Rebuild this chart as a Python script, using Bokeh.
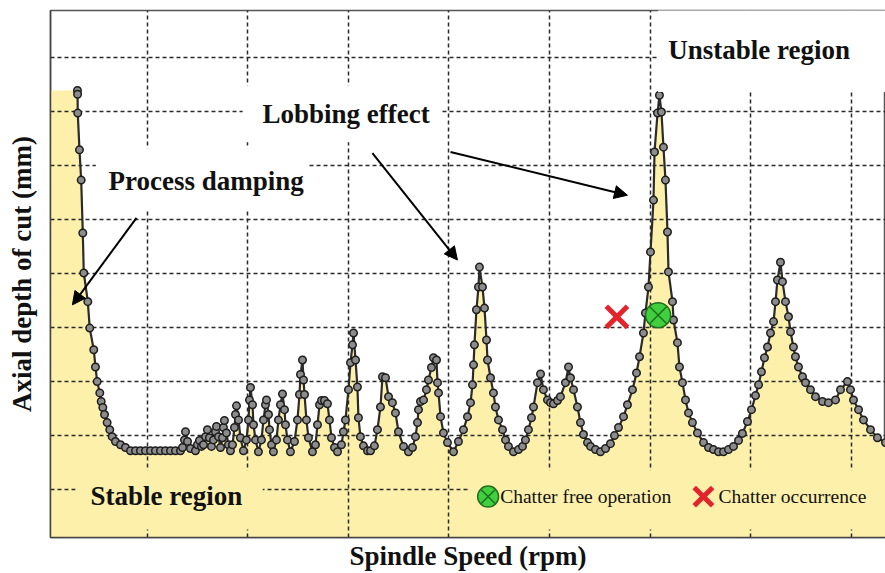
from bokeh.plotting import figure
from bokeh.models import (Range1d, FixedTicker, Label, BoxAnnotation, Arrow, NormalHead)
from bokeh.embed import file_html
from bokeh.resources import INLINE

# ---------------- data (spindle speed, axial depth of cut) ----------------
speed = [
    0.308, 0.309, 0.311, 0.328, 0.345, 0.361, 0.371, 0.411, 0.430, 0.470, 0.487, 0.504,
    0.530, 0.544, 0.560, 0.577, 0.603, 0.629, 0.653, 0.686, 0.736, 0.785, 0.835, 0.885,
    0.934, 0.984, 1.034, 1.083, 1.133, 1.183, 1.233, 1.282, 1.332,
    1.352, 1.372, 1.382, 1.402, 1.431, 1.481, 1.501, 1.521, 1.541, 1.561, 1.581, 1.600,
    1.620, 1.640, 1.660, 1.680, 1.690, 1.710, 1.730, 1.750, 1.759, 1.769, 1.789, 1.809,
    1.829, 1.849, 1.869, 1.879, 1.889, 1.909, 1.928, 1.958, 1.988, 2.008, 2.018, 2.028,
    2.048, 2.058, 2.078, 2.107, 2.137, 2.157, 2.177, 2.187, 2.207, 2.217, 2.237, 2.256,
    2.286, 2.306, 2.326, 2.346, 2.366, 2.376, 2.396, 2.425, 2.465, 2.495, 2.515, 2.525,
    2.545, 2.555, 2.565, 2.584, 2.604, 2.644, 2.674, 2.694, 2.714, 2.734, 2.763, 2.793,
    2.813, 2.833, 2.863, 2.893,
    2.932, 2.952, 2.972, 3.002, 3.022, 3.042, 3.052, 3.072, 3.091, 3.101, 3.121, 3.151,
    3.191, 3.221, 3.260, 3.290, 3.320, 3.340, 3.370, 3.400, 3.439, 3.469, 3.499, 3.549,
    3.598, 3.638, 3.668, 3.688, 3.698, 3.718, 3.748, 3.777, 3.797, 3.827, 3.847, 3.877,
    3.887, 3.897, 3.917, 3.946, 3.986, 4.046, 4.095, 4.145, 4.185, 4.215, 4.235, 4.245,
    4.254, 4.274, 4.294, 4.304, 4.334, 4.354, 4.374, 4.384, 4.414, 4.443, 4.463, 4.493,
    4.533, 4.563, 4.592, 4.642,
    4.692, 4.732, 4.761, 4.791, 4.821, 4.841, 4.881, 4.911, 4.940, 4.980, 5.010, 5.040,
    5.080, 5.109, 5.159, 5.189, 5.209, 5.239, 5.278, 5.308, 5.338, 5.378, 5.408, 5.457,
    5.507, 5.557, 5.606, 5.646, 5.686, 5.736, 5.775, 5.825, 5.865, 5.895, 5.934, 5.954,
    5.984, 6.004, 6.034, 6.044, 6.074, 6.093, 6.113, 6.133, 6.153, 6.173, 6.183, 6.223,
    6.233, 6.272, 6.292, 6.322, 6.352, 6.382, 6.421, 6.471, 6.531, 6.581, 6.630, 6.680,
    6.730, 6.779, 6.829, 6.879, 6.918, 6.968, 7.008, 7.048, 7.078, 7.107, 7.137, 7.167,
    7.197, 7.227, 7.247, 7.266, 7.296, 7.316, 7.346, 7.376, 7.396, 7.425, 7.445, 7.475,
    7.515, 7.545, 7.594, 7.644, 7.714, 7.773, 7.843, 7.893, 7.962, 7.992, 8.022, 8.072,
    8.121, 8.191, 8.260, 8.340,
]
depth = [
    8.39, 8.32, 7.97, 7.29, 6.73, 5.75, 5.01, 4.48, 3.99, 3.59, 3.27, 3.00,
    2.79, 2.63, 2.52, 2.39, 2.24, 2.11, 1.98, 1.89, 1.83, 1.78, 1.72, 1.72,
    1.72, 1.72, 1.72, 1.72, 1.72, 1.72, 1.72, 1.72, 1.72,
    1.78, 1.92, 2.07, 1.89, 1.76, 1.72, 1.83, 1.91, 1.80, 1.83, 1.98, 2.11,
    1.96, 1.80, 1.92, 2.07, 2.17, 1.98, 1.78, 1.96, 2.15, 2.28, 2.05, 1.83,
    1.72, 1.83, 2.15, 2.39, 2.55, 2.29, 1.96, 1.72, 1.92, 2.29, 2.66, 2.89,
    2.57, 2.20, 1.92, 1.70, 1.92, 2.29, 2.57, 2.66, 2.39, 2.11, 1.83, 1.70,
    1.92, 2.29, 2.57, 2.77, 2.48, 2.20, 1.92, 1.70, 1.89, 2.29, 2.76, 3.13,
    3.40, 3.03, 2.76, 2.29, 1.96, 1.70, 1.83, 2.20, 2.57, 2.65, 2.65, 2.59,
    2.29, 1.96, 1.78, 1.70,
    1.83, 2.07, 2.29, 2.85, 3.35, 3.68, 3.90, 3.40, 2.90, 2.33, 1.98, 1.81,
    1.72, 1.72, 1.81, 2.11, 2.53, 3.09, 3.07, 2.72, 2.61, 2.42, 2.07, 1.80,
    1.70, 1.78, 1.98, 2.24, 2.48, 2.63, 2.66, 2.85, 3.03, 3.26, 3.44, 3.40,
    2.98, 2.79, 2.35, 2.05, 1.87, 1.70, 1.89, 2.11, 2.35, 2.61, 2.94, 3.31,
    3.68, 4.33, 4.75, 5.12, 4.75, 4.36, 3.77, 3.40, 3.07, 2.79, 2.53, 2.29,
    2.11, 1.92, 1.80, 1.70,
    1.74, 1.80, 1.92, 2.11, 2.33, 2.53, 2.98, 3.14, 2.85, 2.66, 2.61, 2.59,
    2.65, 2.72, 2.98, 3.27, 3.07, 2.85, 2.53, 2.24, 2.02, 1.87, 1.80, 1.74,
    1.70, 1.76, 1.85, 2.00, 2.15, 2.35, 2.57, 2.85, 3.16, 3.46, 3.90, 4.27,
    4.75, 5.40, 6.36, 7.25, 7.97, 8.30, 7.99, 7.34, 6.73, 5.77, 5.03, 4.48,
    4.14, 3.72, 3.27, 2.98, 2.66, 2.42, 2.24, 2.05, 1.87, 1.78, 1.74, 1.70,
    1.70, 1.74, 1.80, 1.91, 2.04, 2.26, 2.48, 2.74, 2.94, 3.18, 3.44, 3.64,
    3.90, 4.11, 4.48, 4.88, 5.21, 4.85, 4.48, 4.20, 3.92, 3.64, 3.46, 3.27,
    3.09, 2.98, 2.85, 2.72, 2.63, 2.61, 2.66, 2.85, 3.00, 2.85, 2.66, 2.48,
    2.29, 2.11, 1.96, 1.87,
]

chatter_free = ([6.08], [4.23])      # test point: no chatter
chatter_occ = ([5.67], [4.20])       # test point: chatter

x_grid = [1, 2, 3, 4, 5, 6, 7, 8]
y_grid = [1, 2, 3, 4, 5, 6, 7, 8, 9]

FONT = "Liberation Serif"
YELLOW = "#FDF0AA"

# ---------------- figure ----------------
p = figure(width=885, height=573, output_backend="svg", toolbar_location=None,
           x_range=Range1d(0.04, 8.34), y_range=Range1d(0.113, 9.87),
           min_border_left=50, min_border_right=0, min_border_top=10, min_border_bottom=35)

p.background_fill_color = "white"
p.border_fill_color = "white"
p.outline_line_color = "#555555"
p.outline_line_width = 1.5

# axes: no tick labels in the reference (grid only)
for ax in (p.xaxis[0], p.yaxis[0]):
    ax.ticker = FixedTicker(ticks=[])
    ax.major_label_standoff = 0
    ax.major_tick_in = 0
    ax.major_tick_out = 0
    ax.minor_tick_line_color = None
    ax.axis_line_color = "#444444"
    ax.axis_line_width = 1.5
    ax.axis_label_text_font = FONT
    ax.axis_label_text_font_style = "bold"
    ax.axis_label_text_color = "#111111"

p.xaxis.axis_label = "Spindle Speed (rpm)"
p.yaxis.axis_label = "Axial depth of cut (mm)"
p.xaxis.axis_label_text_font_size = "27px"
p.yaxis.axis_label_text_font_size = "27px"
p.xaxis.axis_label_standoff = 3
p.yaxis.axis_label_standoff = 14

p.xgrid.ticker = FixedTicker(ticks=x_grid)
p.ygrid.ticker = FixedTicker(ticks=y_grid)
for g in (p.xgrid[0], p.ygrid[0]):
    g.grid_line_color = "#2a2a2a"
    g.grid_line_dash = "4 3"
    g.grid_line_width = 1.5

# stable area (fill below the lobes)
fill_x = [p.x_range.start] + speed
fill_y = [depth[0]] + depth
p.varea(x=fill_x, y1=p.y_range.start, y2=fill_y, fill_color=YELLOW, level="image")

# stability lobes
p.line(speed, depth, line_color="#2b2b2b", line_width=2.2)
p.scatter(speed, depth, marker="circle", size=7.5, fill_color="#8c8c8c",
          line_color="#1e1e1e", line_width=1.5)

# test points
p.scatter(chatter_free[0], chatter_free[1], marker="circle_x", size=25,
          fill_color="#3fcf3f", line_color="#1f6f1f", line_width=1.5)
p.scatter(chatter_occ[0], chatter_occ[1], marker="x", size=30,
          line_color="#e4242b", line_width=5)

# text backgrounds (hide grid behind annotations)
p.add_layout(BoxAnnotation(left=6.08, right=8.4, top=9.9, bottom=8.36,
                           fill_color="white", fill_alpha=1, line_color=None))
p.add_layout(BoxAnnotation(left=1.95, right=3.92, top=8.48, bottom=7.43,
                           fill_color="white", fill_alpha=1, line_color=None))
p.add_layout(BoxAnnotation(left=0.49, right=2.60, top=7.32, bottom=6.17,
                           fill_color="white", fill_alpha=1, line_color=None))
p.add_layout(BoxAnnotation(left=0.29, right=2.15, top=1.36, bottom=0.26,
                           fill_color=YELLOW, fill_alpha=1, line_color=None))
p.add_layout(BoxAnnotation(left=4.21, right=8.4, top=1.36, bottom=0.26,
                           fill_color=YELLOW, fill_alpha=1, line_color=None))

def lbl(x, y, text, size="27px", style="bold"):
    p.add_layout(Label(x=x, y=y, text=text, text_font=FONT, text_font_size=size,
                       text_font_style=style, text_color="#111111",
                       text_baseline="middle", text_align="left"))

lbl(6.18, 9.13, "Unstable region")
lbl(2.147, 7.95, "Lobbing effect")
lbl(0.616, 6.71, "Process damping")
lbl(0.437, 0.89, "Stable region")

# legend (custom, inside stable region)
p.scatter([4.39], [0.87], marker="circle_x", size=21, level="overlay",
          fill_color="#3fcf3f", line_color="#1f6f1f", line_width=1.5)
lbl(4.51, 0.87, "Chatter free operation", size="19.5px", style="normal")
p.scatter([6.53], [0.87], marker="x", size=26, level="overlay",
          line_color="#e4242b", line_width=5)
lbl(6.68, 0.87, "Chatter occurrence", size="19.5px", style="normal")

# arrows
for xs, ys, xe, ye in [(0.895, 6.03, 0.258, 4.42),
                       (3.24, 7.23, 4.085, 5.25),
                       (4.016, 7.25, 5.775, 6.45)]:
    p.add_layout(Arrow(end=NormalHead(size=13, fill_color="black", line_color="black"),
                       x_start=xs, y_start=ys, x_end=xe, y_end=ye,
                       line_color="black", line_width=2))

open("out.html", "w").write(file_html(p, INLINE))
